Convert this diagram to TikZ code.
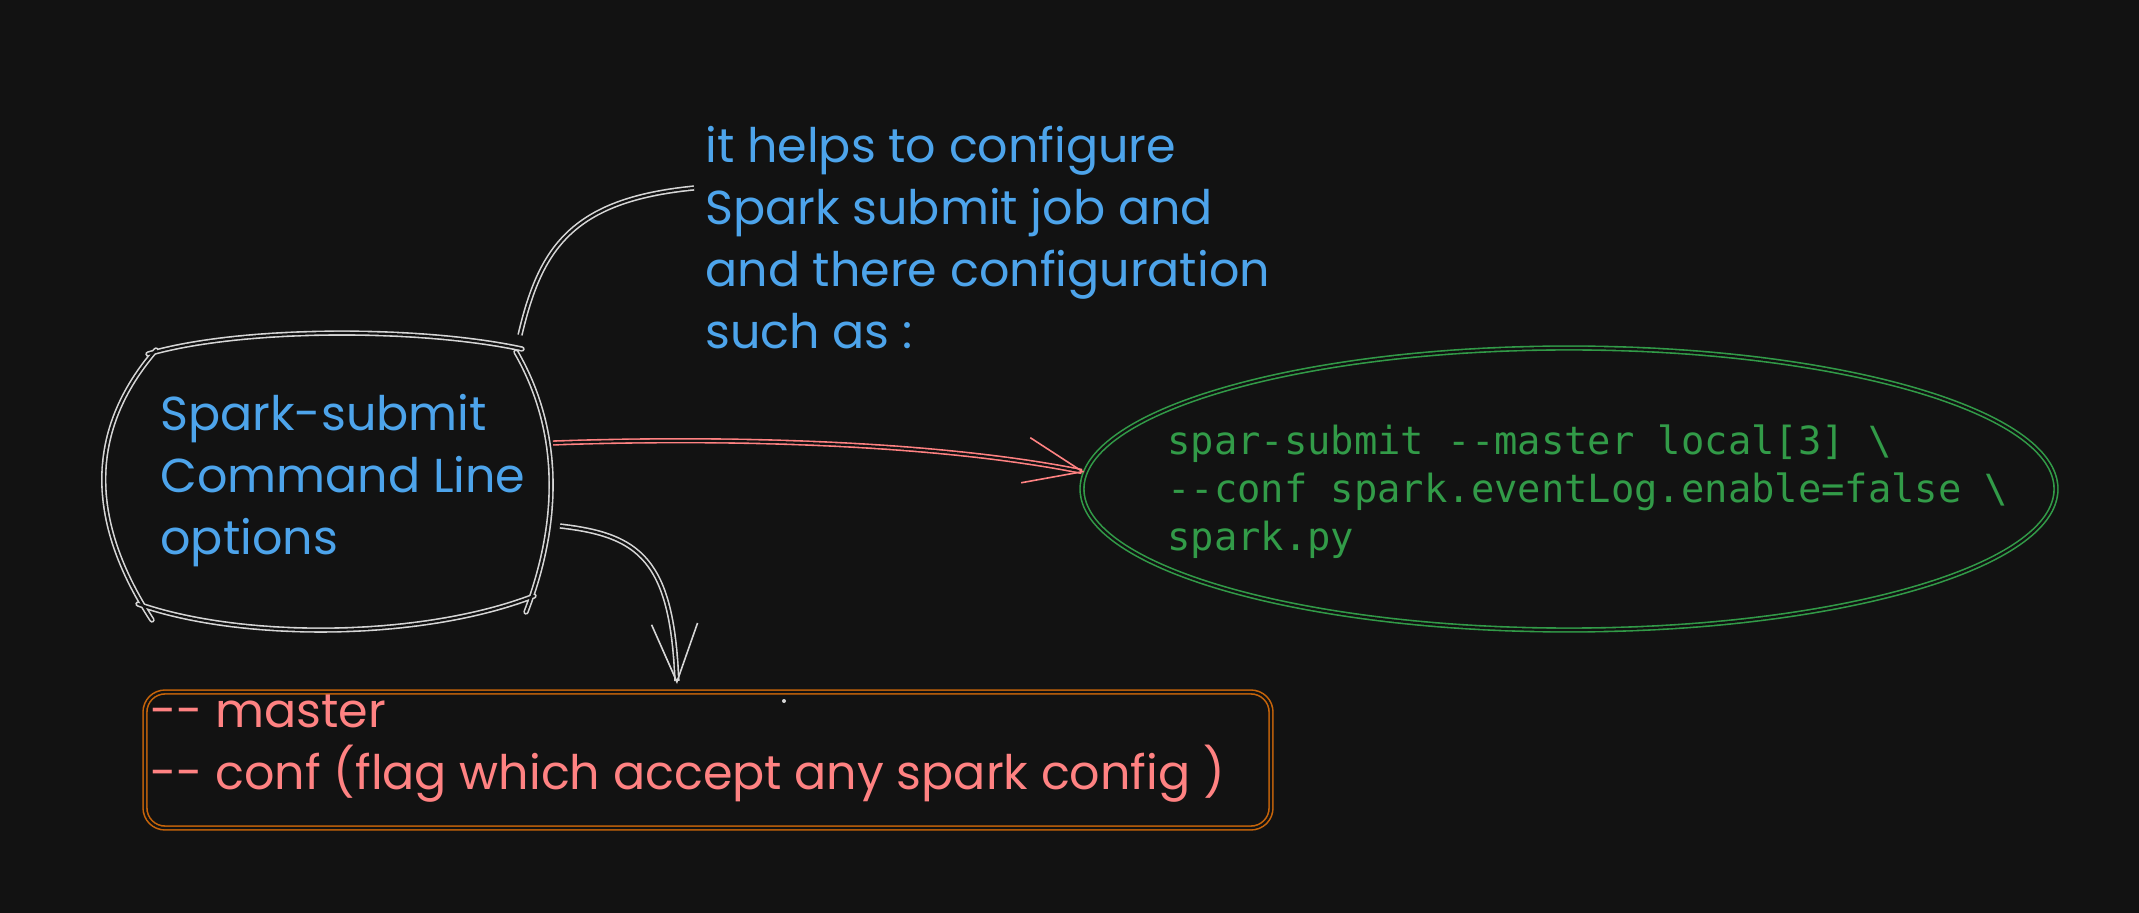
\documentclass[tikz,border=0pt]{standalone}
\usepackage{fontspec}
\setmainfont{Poppins}
\newfontfamily\codefont{DejaVu Sans Mono}
\usetikzlibrary{arrows.meta,shapes.geometric}
\definecolor{night}{RGB}{18,18,18}
\definecolor{chalk}{RGB}{214,214,214}
\definecolor{sky}{RGB}{77,164,235}
\definecolor{coral}{RGB}{255,130,130}
\definecolor{leaf}{RGB}{50,155,72}
\definecolor{rust}{RGB}{198,100,10}
\tikzset{
  >={Straight Barb[length=29pt,width=23pt]},
  sketch/.style={line width=0.8pt,double=night,double distance=1.1pt},
  hand/.style={font=\fontsize{23.8}{31}\selectfont,text=#1,align=left,inner sep=0pt},
  hand/.default=sky,
  code/.style={font=\codefont\fontsize{19.4}{24}\selectfont,text=leaf,align=left,inner sep=0pt},
  link/.style={->,sketch,draw=#1},
  link/.default=chalk,
}
\begin{document}
\begin{tikzpicture}[x=0.5pt,y=-0.5pt]
  \fill[night] (0,0) rectangle (2139,913);
  \useasboundingbox (0,0) rectangle (2139,913);
  % options shape, sides overshoot at the corners
  \draw[sketch,draw=chalk,line cap=round]
    (148,354) .. controls (240,327) and (420,327) .. (522,349)
    (516,352) .. controls (561,430) and (561,520) .. (526,612)
    (534,596) .. controls (420,640) and (240,640) .. (138,604)
    (152,620) .. controls (87,520) and (87,430) .. (156,350);
  \node[hand,anchor=north west] (cli) at (160,394) {Spark-submit\\Command Line\\options};
  \coordinate (cli-top) at (520,335);
  \coordinate (cli-right) at (553,443);
  \coordinate (cli-low) at (560,526);
  % note
  \node[hand,anchor=north west] (note) at (705,126) {it helps to configure\\Spark submit job and\\and there configuration\\such as :};
  \coordinate (note-in) at (694,188);
  % command
  \node[ellipse,draw=leaf,sketch,minimum width=487pt,minimum height=141pt,inner sep=0pt] (cmdring) at (1569,489) {};
  \node[code,anchor=north west] (cmd) at (1167,424) {spar-submit -{}-master local[3] \textbackslash\\-{}-conf spark.eventLog.enable=false \textbackslash\\spark.py};
  % flags
  \node[draw=rust,sketch,rounded corners=10pt,minimum width=563pt,minimum height=68pt] (optsbox) at (708,760) {};
  \node[hand=coral,anchor=north west] (opts) at (150,694) {-{}- master\\-{}- conf (flag which accept any spark config )};
  \coordinate (opts-in) at (677,684);
  \fill[chalk] (784,701) circle (2);
  % connectors
  \draw[sketch,draw=chalk] (cli-top) .. controls (540,250) and (570,200) .. (note-in);
  \draw[link=coral] (cli-right) .. controls (750,436) and (950,445) .. (cmdring.178);
  \draw[link] (cli-low) .. controls (640,535) and (672,560) .. (opts-in);
\end{tikzpicture}
\end{document}
